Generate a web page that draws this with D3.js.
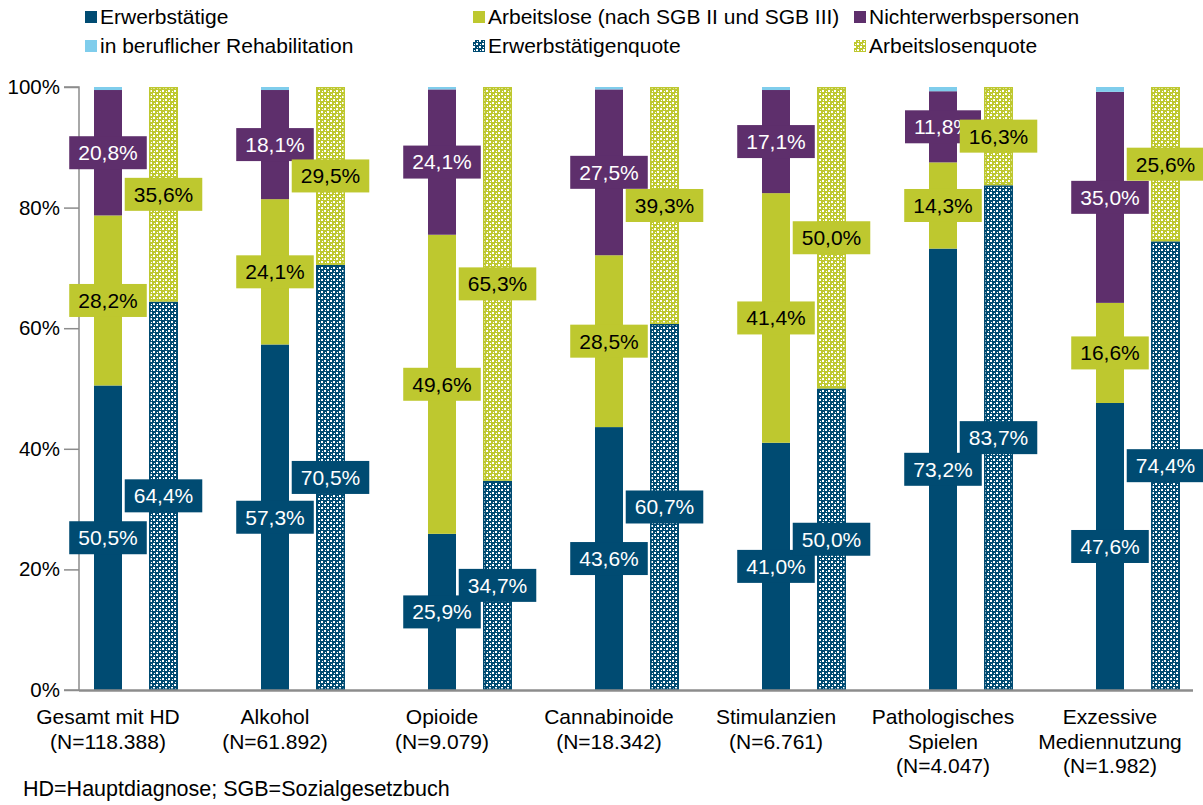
<!DOCTYPE html>
<html>
<head>
<meta charset="utf-8">
<script src="https://cdn.jsdelivr.net/npm/d3@7"></script>
<style>
    body { margin: 0; background: #fff; }
    text { font-family: "Liberation Sans", Arial, sans-serif; }
</style>
</head>
<body>
<div id="chart"></div>
<script>
// chart data (percent)
var categories = ["Gesamt mit HD", "Alkohol", "Opioide", "Cannabinoide", "Stimulanzien", "Pathologisches Spielen", "Exzessive Mediennutzung"];
var categoryLines = [
    ["Gesamt mit HD", "(N=118.388)"],
    ["Alkohol", "(N=61.892)"],
    ["Opioide", "(N=9.079)"],
    ["Cannabinoide", "(N=18.342)"],
    ["Stimulanzien", "(N=6.761)"],
    ["Pathologisches", "Spielen", "(N=4.047)"],
    ["Exzessive", "Mediennutzung", "(N=1.982)"]
];
var erwerbstaetige = [50.5, 57.3, 25.9, 43.6, 41.0, 73.2, 47.6];
var arbeitslose = [28.2, 24.1, 49.6, 28.5, 41.4, 14.3, 16.6];
var nichterwerb = [20.8, 18.1, 24.1, 27.5, 17.1, 11.8, 35.0];
var reha = [0.5, 0.5, 0.4, 0.4, 0.5, 0.7, 0.8];
var erwerbsQuote = [64.4, 70.5, 34.7, 60.7, 50.0, 83.7, 74.4];
var arbeitslosQuote = [35.6, 29.5, 65.3, 39.3, 50.0, 16.3, 25.6];
var yTicks = [0, 20, 40, 60, 80, 100];
var footnote = "HD=Hauptdiagnose; SGB=Sozialgesetzbuch";

// colours
var blue = "#004b72";
var green = "#bec82f";
var purple = "#5e2f6c";
var lightBlue = "#7fcdec";
var axisGray = "#8c8c8c";

var svgWidth = 1203;
var svgHeight = 805;
var fontSize = 21;

var svg = d3.select("#chart")
    .append("svg")
    .attr("width", svgWidth)
    .attr("height", svgHeight);

// patterns for the quota bars
var defs = svg.append("defs");
function addPattern(id, color) {
    var p = defs.append("pattern")
        .attr("id", id)
        .attr("width", 6)
        .attr("height", 6)
        .attr("patternUnits", "userSpaceOnUse");
    p.append("rect").attr("width", 6).attr("height", 6).attr("fill", color);
    [[0, 0, 2, 2], [3, 3, 2, 2], [4, 1, 1, 1], [1, 4, 1, 1]].forEach(r => {
        p.append("rect")
            .attr("x", r[0]).attr("y", r[1])
            .attr("width", r[2]).attr("height", r[3])
            .attr("fill", "#fff");
    });
}
addPattern("patBlue", blue);
addPattern("patGreen", green);

// scales
var xScale = d3.scalePoint()
    .domain(categories)
    .range([108, 1110]);

var yScale = d3.scaleLinear()
    .domain([0, 100])
    .range([690, 87]);

var barWidth = 28;
var quoteWidth = 29;
var quoteOffset = 55.5;

// axes
var leftAxis = d3.axisLeft(yScale)
    .tickValues(yTicks)
    .tickSize(15)
    .tickPadding(4)
    .tickFormat(d => d + "%");

var yAxisG = svg.append("g")
    .attr("transform", "translate(79, 0)")
    .call(leftAxis);
yAxisG.select(".domain").attr("stroke", axisGray).attr("stroke-width", 1.5)
    .attr("d", `M-15,${yScale(100)}H0V${yScale(0)}H-15`);
yAxisG.selectAll(".tick line").attr("stroke", axisGray).attr("stroke-width", 1.5);
yAxisG.selectAll(".tick text")
    .attr("fill", "#000")
    .style("font-size", "20.5px")
    .style("font-family", "Liberation Sans, Arial, sans-serif");

// stacked bars
var rows = categories.map((c, i) => ({
    cat: c,
    erw: erwerbstaetige[i],
    arb: arbeitslose[i],
    nicht: nichterwerb[i],
    reha: reha[i]
}));
var stackKeys = ["erw", "arb", "nicht", "reha"];
var stackColors = { erw: blue, arb: green, nicht: purple, reha: lightBlue };
var stacked = d3.stack().keys(stackKeys)(rows);

svg.selectAll("g.series")
    .data(stacked)
    .enter()
    .append("g")
    .attr("fill", d => stackColors[d.key])
    .selectAll("rect")
    .data(d => d)
    .enter()
    .append("rect")
    .attr("x", d => xScale(d.data.cat) - barWidth / 2)
    .attr("y", d => yScale(d[1]))
    .attr("width", barWidth)
    .attr("height", d => yScale(d[0]) - yScale(d[1]));

// quota bars
var quoteRows = categories.map((c, i) => ({ cat: c, eq: erwerbsQuote[i], aq: arbeitslosQuote[i] }));
var quoteStack = d3.stack().keys(["eq", "aq"])(quoteRows);
var quoteFill = { eq: "url(#patBlue)", aq: "url(#patGreen)" };
var quoteStroke = { eq: blue, aq: green };

svg.selectAll("g.quote")
    .data(quoteStack)
    .enter()
    .append("g")
    .attr("fill", d => quoteFill[d.key])
    .attr("stroke", d => quoteStroke[d.key])
    .attr("stroke-width", 1.5)
    .selectAll("rect")
    .data(d => d)
    .enter()
    .append("rect")
    .attr("x", d => xScale(d.data.cat) + quoteOffset - quoteWidth / 2 + 0.75)
    .attr("y", d => yScale(d[1]) + 0.75)
    .attr("width", quoteWidth - 1.5)
    .attr("height", d => yScale(d[0]) - yScale(d[1]) - 1.5);

// bottom axis line
svg.append("line")
    .attr("x1", 79).attr("x2", 1193)
    .attr("y1", 690.5).attr("y2", 690.5)
    .attr("stroke", axisGray)
    .attr("stroke-width", 2.5);

// data labels
var fmt = v => d3.format(".1f")(v).replace(".", ",") + "%";
function addLabel(cx, cy, value, fill, textColor) {
    var g = svg.append("g").attr("transform", `translate(${cx}, ${cy})`);
    var t = g.append("text")
        .attr("text-anchor", "middle")
        .attr("dy", "0.35em")
        .attr("fill", textColor)
        .style("font-size", fontSize + "px")
        .text(fmt(value));
    var w = t.node().getComputedTextLength() + 18;
    g.insert("rect", "text")
        .attr("x", -w / 2)
        .attr("y", -16.5)
        .attr("width", w)
        .attr("height", 33)
        .attr("fill", fill);
}

var labelSeries = [
    { key: "erw", fill: blue, text: "#fff" },
    { key: "arb", fill: green, text: "#000" },
    { key: "nicht", fill: purple, text: "#fff" }
];
labelSeries.forEach(s => {
    var layer = stacked.find(l => l.key === s.key);
    layer.forEach(d => {
        addLabel(xScale(d.data.cat), yScale((d[0] + d[1]) / 2), d[1] - d[0], s.fill, s.text);
    });
});
[{ key: "eq", fill: blue, text: "#fff" }, { key: "aq", fill: green, text: "#000" }].forEach(s => {
    var layer = quoteStack.find(l => l.key === s.key);
    layer.forEach(d => {
        addLabel(xScale(d.data.cat) + quoteOffset, yScale((d[0] + d[1]) / 2), d[1] - d[0], s.fill, s.text);
    });
});

// category labels
categories.forEach((c, i) => {
    var t = svg.append("text")
        .attr("x", xScale(c))
        .attr("y", 724)
        .attr("text-anchor", "middle")
        .style("font-size", fontSize + "px");
    categoryLines[i].forEach((line, j) => {
        t.append("tspan")
            .attr("x", xScale(c))
            .attr("dy", j === 0 ? 0 : 24.5)
            .text(line);
    });
});

// footnote
svg.append("text")
    .attr("x", 23)
    .attr("y", 796)
    .style("font-size", "21.5px")
    .text(footnote);

// legend
var legendItems = [
    { label: "Erwerbstätige", fill: blue, x: 85, y: 17 },
    { label: "Arbeitslose (nach SGB II und SGB III)", fill: green, x: 473, y: 17 },
    { label: "Nichterwerbspersonen", fill: purple, x: 854, y: 17 },
    { label: "in beruflicher Rehabilitation", fill: lightBlue, x: 85, y: 46 },
    { label: "Erwerbstätigenquote", fill: "url(#patBlue)", x: 473, y: 46 },
    { label: "Arbeitslosenquote", fill: "url(#patGreen)", x: 854, y: 46 }
];
var legend = svg.selectAll("g.legend")
    .data(legendItems)
    .enter()
    .append("g")
    .attr("transform", d => `translate(${d.x}, ${d.y})`);
legend.append("rect")
    .attr("x", 0).attr("y", -6)
    .attr("width", 12).attr("height", 12)
    .attr("fill", d => d.fill);
legend.append("text")
    .attr("x", 15)
    .attr("dy", "0.35em")
    .style("font-size", fontSize + "px")
    .text(d => d.label);
</script>
</body>
</html>
